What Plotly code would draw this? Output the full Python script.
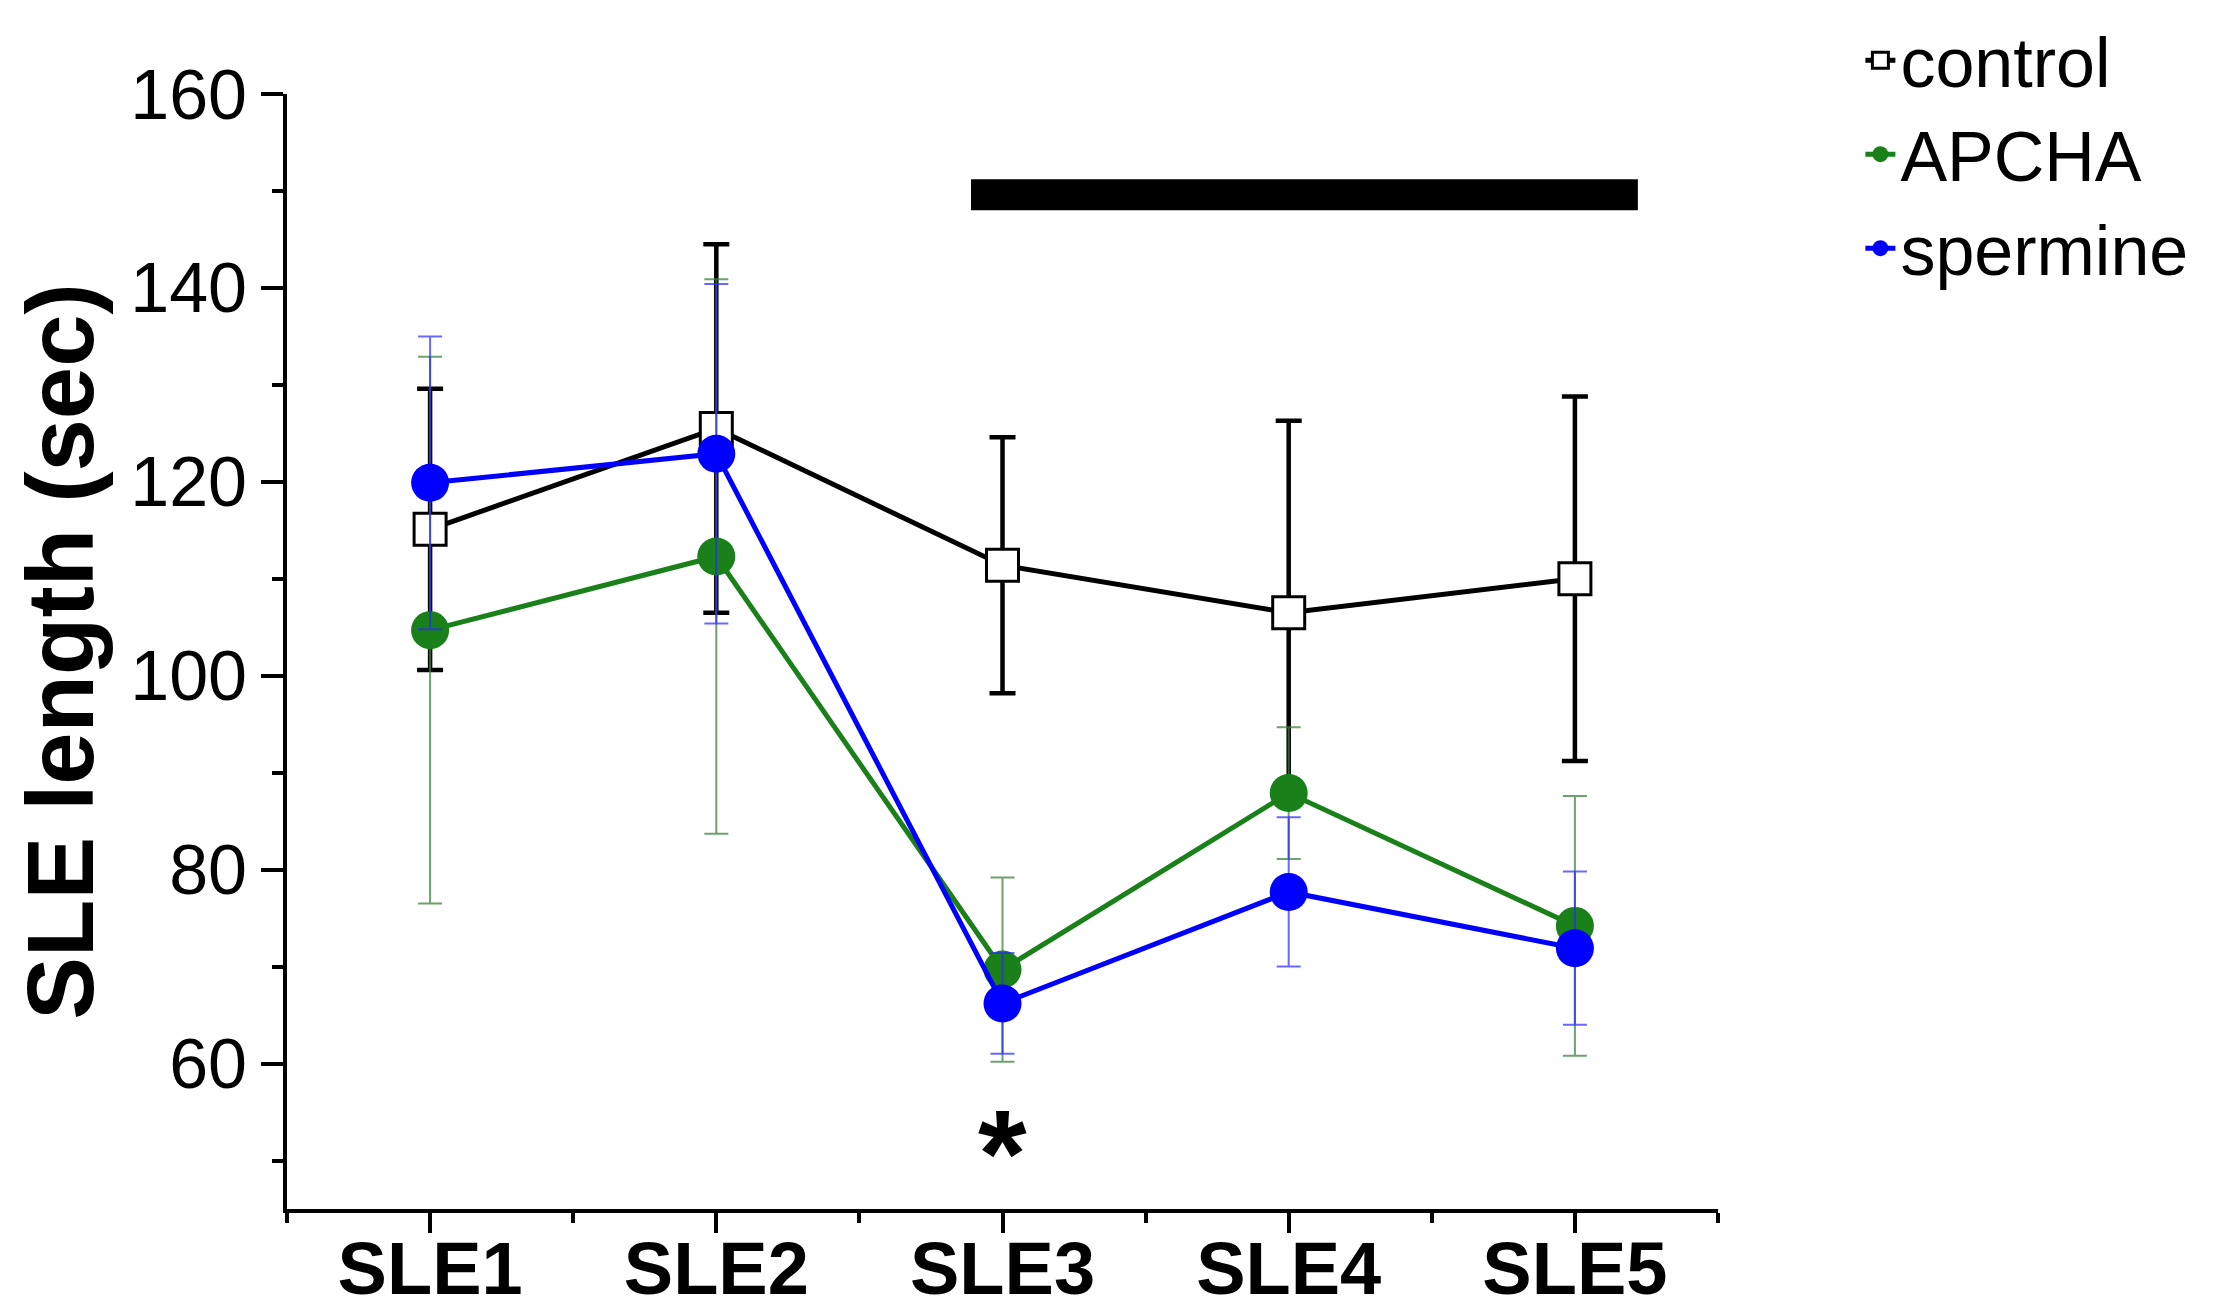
import plotly.graph_objects as go

# data
categories = ['SLE1', 'SLE2', 'SLE3', 'SLE4', 'SLE5']
x_pos = [1, 2, 3, 4, 5]

control_mean = [115.1, 125.5, 111.4, 106.5, 110.0]
control_err = [14.5, 19.0, 13.2, 19.8, 18.8]

apcha_mean = [104.7, 112.3, 69.7, 87.9, 74.2]
apcha_err = [28.2, 28.6, 9.5, 6.8, 13.4]

spermine_mean = [119.9, 122.9, 66.2, 77.7, 71.9]
spermine_err = [15.1, 17.5, 5.2, 7.7, 7.9]

# significance bar (x span, y span) and asterisk
sig_bar_x = [2.89, 5.22]
sig_bar_y = [148.0, 151.2]
star_x = 3
star_y = 52.7

FONT = 'Liberation Sans'


def line_graph():

    fig = go.Figure()

    fig.add_trace(go.Scatter(
        x=x_pos, y=control_mean, mode='lines+markers', name='control',
        line=dict(color='black', width=5),
        marker=dict(symbol='square', size=32, color='white', line=dict(color='black', width=3)),
        error_y=dict(type='data', array=control_err, color='black', thickness=4.5, width=13)))

    fig.add_trace(go.Scatter(
        x=x_pos, y=apcha_mean, mode='lines+markers', name='APCHA',
        line=dict(color='#1a801a', width=5),
        marker=dict(symbol='circle', size=38, color='#1a801a'),
        error_y=dict(type='data', array=apcha_err, color='rgba(60,130,60,0.75)', thickness=2, width=12)))

    fig.add_trace(go.Scatter(
        x=x_pos, y=spermine_mean, mode='lines+markers', name='spermine',
        line=dict(color='#0000ff', width=5),
        marker=dict(symbol='circle', size=38, color='#0000ff'),
        error_y=dict(type='data', array=spermine_err, color='rgba(40,40,255,0.7)', thickness=2, width=12)))

    fig.add_shape(type='rect', xref='x', yref='y',
                  x0=sig_bar_x[0], x1=sig_bar_x[1], y0=sig_bar_y[0], y1=sig_bar_y[1],
                  fillcolor='black', line=dict(width=0))

    fig.add_annotation(x=star_x, y=star_y, text='<b>*</b>', showarrow=False,
                       font=dict(family=FONT, size=125, color='black'),
                       yanchor='middle', yshift=-19)

    # the page body adds an 8px offset, so the figure is 8px smaller
    fig.update_layout(
        width=2209,
        height=1306,
        plot_bgcolor='white',
        paper_bgcolor='white',
        font=dict(family=FONT, color='black'),
        margin=dict(l=279, r=499, t=86, b=105, autoexpand=False),
        showlegend=True,
        legend=dict(
            x=1.0995, y=1.077, xanchor='left', yanchor='top',
            font=dict(family=FONT, size=70, color='black'),
            bgcolor='rgba(0,0,0,0)',
            tracegroupgap=0,
        ),
        xaxis=dict(
            range=[0.5, 5.5],
            automargin=False,
            tickvals=x_pos,
            ticktext=['<b>%s</b>' % c for c in categories],
            tickfont=dict(family=FONT, size=74, color='black'),
            ticklabelstandoff=-28,
            showline=True, linecolor='black', linewidth=4,
            ticks='outside', ticklen=20, tickwidth=4, tickcolor='black',
            minor=dict(ticks='outside', ticklen=10, tickwidth=4, tickcolor='black',
                       tick0=0.5, dtick=0.5),
            showgrid=False, zeroline=False,
        ),
        yaxis=dict(
            range=[45, 160],
            automargin=False,
            tick0=60, dtick=20,
            tickfont=dict(family=FONT, size=70, color='black'),
            showline=True, linecolor='black', linewidth=4,
            ticks='outside', ticklen=22, tickwidth=4, tickcolor='black',
            minor=dict(ticks='outside', ticklen=11, tickwidth=4, tickcolor='black',
                       tick0=50, dtick=10),
            showgrid=False, zeroline=False,
            title=dict(text='<b>SLE length (sec)</b>', font=dict(family=FONT, size=94, color='black'),
                       standoff=31),
        ),
    )

    fig.write_html('out.html')


if __name__ == '__main__':
    line_graph()
